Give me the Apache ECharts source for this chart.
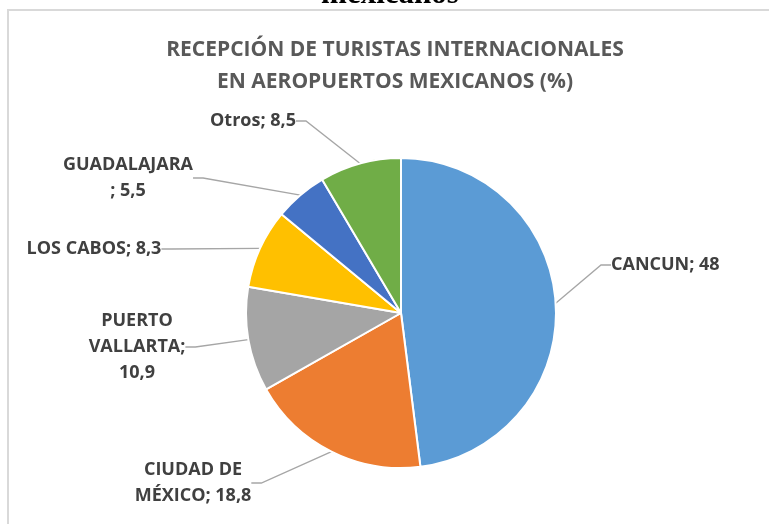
<!DOCTYPE html>
<html>
<head>
<meta charset="utf-8">
<script src="https://cdn.jsdelivr.net/npm/echarts@6/dist/echarts.min.js"></script>
<style>
  html, body { margin: 0; padding: 0; background: #fff; }
  #chart { width: 769px; height: 524px; }
</style>
</head>
<body>
<div id="chart"></div>
<script>
// Datos del gráfico
const categories = ["CANCUN", "CIUDAD DE MÉXICO", "PUERTO VALLARTA", "LOS CABOS", "GUADALAJARA", "Otros"];
const shares = [48, 18.8, 10.9, 8.3, 5.5, 8.5];
const labelTexts = ["CANCUN; 48", "CIUDAD DE\nMÉXICO; 18,8", "PUERTO\nVALLARTA;\n10,9", "LOS CABOS; 8,3", "GUADALAJARA\n; 5,5", "Otros; 8,5"];
const sliceColors = ["#5b9bd5", "#ed7d31", "#a5a5a5", "#ffc000", "#4472c4", "#70ad47"];

// posición de cada etiqueta (estilo, no datos)
const labelSpots = [
  { x: 611, y: 265, align: "left" },
  { x: 193, y: 483, align: "center" },
  { x: 137, y: 347, align: "center" },
  { x: 94, y: 249, align: "center" },
  { x: 128, y: 178, align: "center" },
  { x: 253, y: 121, align: "center" },
];

const chart = echarts.init(document.getElementById("chart"));

chart.setOption({
  backgroundColor: "#fff",
  animation: false,
  title: {
    text: "RECEPCIÓN DE TURISTAS INTERNACIONALES\nEN AEROPUERTOS MEXICANOS (%)",
    left: 390,
    top: 29,
    textAlign: "center",
    textStyle: {
      fontFamily: "Open Sans",
      fontWeight: "bold",
      fontSize: 21,
      color: "#595959",
      lineHeight: 32,
    },
  },
  graphic: [
    {
      type: "rect",
      shape: { x: 8, y: 10, width: 800, height: 560 },
      style: { fill: null, stroke: "#d9d9d9", lineWidth: 2 },
      silent: true,
    },
    {
      // texto del documento cortado arriba
      type: "text",
      x: 390,
      y: -5,
      style: {
        text: "mexicanos",
        fontFamily: "Liberation Serif",
        fontWeight: "bold",
        fontSize: 31,
        fill: "#000",
        align: "center",
        verticalAlign: "middle",
      },
      silent: true,
    },
  ],
  series: [{
    type: "pie",
    radius: 155,
    center: [401, 313],
    startAngle: 90,
    clockwise: true,
    data: categories.map((c, i) => ({
      name: c,
      value: shares[i],
      itemStyle: { color: sliceColors[i] },
    })),
    itemStyle: { borderColor: "#fff", borderWidth: 2 },
    label: {
      show: true,
      formatter: (p) => labelTexts[p.dataIndex],
      fontFamily: "Open Sans",
      fontWeight: "bold",
      fontSize: 18,
      lineHeight: 26,
      color: "#404040",
    },
    labelLine: {
      show: true,
      length: 15,
      length2: 10,
      lineStyle: { color: "#a6a6a6", width: 1.3 },
    },
    labelLayout: (params) => {
      const s = labelSpots[params.dataIndex];
      return { x: s.x, y: s.y, align: s.align, verticalAlign: "middle" };
    },
  }],
});
</script>
</body>
</html>
